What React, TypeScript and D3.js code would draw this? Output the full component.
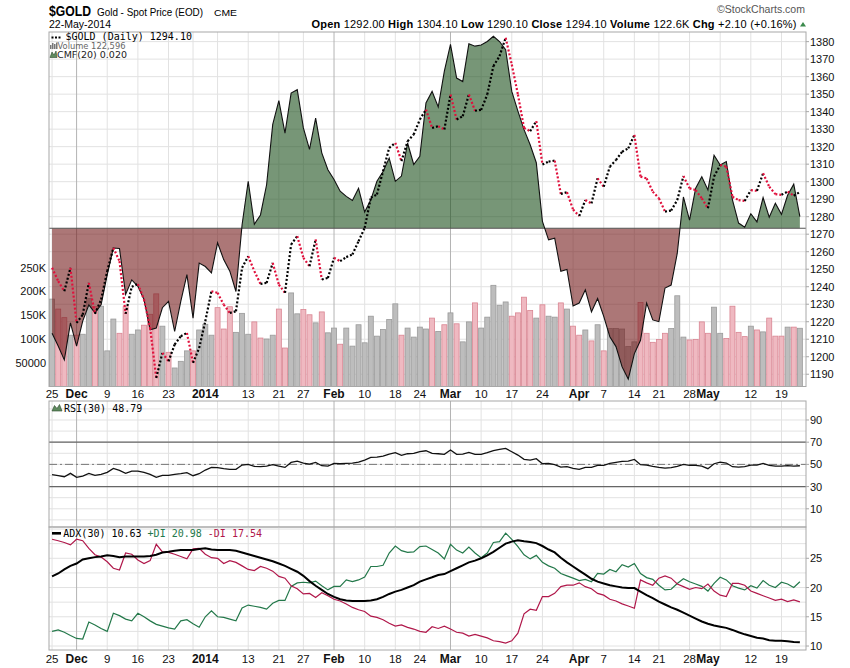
import React from 'react';
import * as d3 from 'd3';

// $GOLD daily closes, 25-Nov-2013 .. 22-May-2014 (trading-day index 0..122)
const closes = [
  1250.8, 1243.2, 1237.4, 1250.8, 1219.3, 1224, 1242.2, 1224.5, 1232.7, 1248.9,
  1262.2, 1254.6, 1224.5, 1240, 1241.5, 1232.7, 1216.5, 1187.9, 1202.2, 1197.4,
  1207, 1211.7, 1213.6, 1196.5, 1205, 1220.3, 1237.4, 1236.5, 1229.8, 1225,
  1226, 1250.8, 1257.4, 1248.9, 1241.6, 1242.2, 1253.6, 1241.2, 1236.5, 1264.1,
  1268.9, 1256.5, 1251.7, 1267, 1244.1, 1245, 1256.5, 1254.6, 1256.9, 1258.4,
  1266, 1273.6, 1290.8, 1292.7, 1306, 1319.3, 1322.2, 1311.7, 1323.1, 1326.9,
  1335.5, 1341.2, 1330.7, 1331.7, 1329.8, 1349.8, 1335.5, 1337.4, 1349.8, 1340.5,
  1341, 1349.8, 1366, 1371.7, 1382.2, 1366.9, 1349.8, 1330.7, 1328.8, 1334.6,
  1309.8, 1311.5, 1312, 1293, 1294, 1284.1, 1280.4, 1289.5, 1287.6, 1301.9,
  1297.1, 1308.6, 1312.4, 1317.1, 1319, 1326.7, 1302.9, 1301.9, 1294.3, 1290.5,
  1282.9, 1283.5, 1289.5, 1303.2, 1296.2, 1295.2, 1290.5, 1284.8, 1302.9, 1309.5,
  1308.6, 1291.4, 1289.5, 1289, 1295.2, 1294.8, 1304.8, 1297.1, 1292.9, 1292.5,
  1294.3, 1292, 1294.1,
];

// volume in thousands
const volumes = [
  184, 163, 145, 108, 108, 110, 185, 168, 169, 75,
  142, 112, 168, 110, 119, 129, 152, 195, 127, 72,
  39, 53, 75, 75, 119, 131, 108, 166, 121, 168,
  114, 154, 110, 136, 102, 100, 108, 163, 81, 197,
  153, 162, 151, 134, 157, 113, 123, 89, 123, 85,
  130, 92, 148, 106, 120, 141, 174, 108, 123, 104,
  125, 121, 144, 116, 130, 155, 132, 94, 136, 176,
  123, 146, 213, 171, 178, 148, 155, 188, 160, 144,
  172, 148, 146, 176, 163, 127, 108, 119, 96, 130,
  75, 122, 122, 121, 84, 94, 177, 112, 93, 99,
  112, 122, 191, 104, 98, 99, 136, 112, 167, 112,
  101, 169, 114, 105, 127, 119, 115, 144, 106, 106,
  125, 125, 122.596,
];

const cmf = [
  -0.181, -0.203, -0.227, -0.163, -0.203, -0.16, -0.132, -0.146, -0.132, -0.08,
  -0.034, -0.035, -0.114, -0.089, -0.1, -0.123, -0.175, -0.172, -0.137, -0.126,
  -0.178, -0.126, -0.08, -0.155, -0.06, -0.066, -0.077, -0.025, -0.054, -0.074,
  -0.109, 0.006, 0.081, 0.007, 0.023, 0.075, 0.179, 0.22, 0.164, 0.233,
  0.239, 0.173, 0.136, 0.19, 0.13, 0.101, 0.084, 0.064, 0.055, 0.048,
  0.069, 0.028, 0.049, 0.081, 0.098, 0.121, 0.081, 0.09, 0.147, 0.11,
  0.124, 0.216, 0.236, 0.209, 0.271, 0.317, 0.259, 0.253, 0.318, 0.314,
  0.316, 0.322, 0.331, 0.322, 0.308, 0.236, 0.202, 0.17, 0.144, 0.113,
  0.012, -0.02, -0.017, -0.074, -0.071, -0.134, -0.129, -0.106, -0.144, -0.121,
  -0.152, -0.187, -0.204, -0.239, -0.26, -0.216, -0.193, -0.129, -0.158, -0.161,
  -0.103, -0.098, -0.043, 0.054, 0.014, 0.069, 0.089, 0.066, 0.126, 0.109,
  0.115, 0.049, 0.009, 0.002, 0.025, 0.011, 0.053, 0.019, 0.043, 0.024,
  0.057, 0.076, 0.02,
];

const rsi = [
  40.7, 39.8, 38.9, 41.9, 38.3, 39.5, 41.9, 40.1, 41, 42.8,
  46.4, 44.6, 41.9, 44, 44, 42.8, 41, 38.3, 40.1, 40.1,
  41, 41.6, 42.5, 39.8, 41.6, 44.9, 47.3, 47, 46.1, 45.5,
  45.5, 49.4, 50, 48.2, 47.9, 48.5, 49.7, 48.5, 47.3, 51.8,
  53, 51.2, 50.3, 51.8, 48.8, 48.5, 50.9, 50.6, 50.9, 51.2,
  52.1, 53.9, 56.3, 56.6, 57.5, 59.3, 60.5, 58.1, 59.6, 59.9,
  61.4, 62.3, 59.9, 59.6, 59, 62.9, 59, 59.3, 60.8, 59,
  59, 60.5, 62.3, 63.5, 64.4, 61.4, 58.4, 54.5, 53.9, 55.1,
  50.6, 50.9, 49.7, 47.6, 47.9, 46.5, 45.5, 47.3, 47.3, 49.1,
  49.1, 50.9, 51.8, 52.7, 53, 54.5, 49.7, 49.4, 48.2, 47.3,
  46.7, 47, 48.2, 50, 49.1, 49.1, 48.5, 46.1, 50.6, 52.1,
  51.2, 47.9, 47.6, 47.9, 49.4, 49.4, 50.9, 49.1, 48.5, 48.5,
  48.8, 48.5, 48.79,
];

const adx = [
  21.9, 22.4, 23.1, 23.7, 24.1, 24.8, 25, 25.2, 25.3, 25.5,
  25.4, 25.2, 25.3, 25.3, 25.3, 25.3, 25.4, 25.6, 26, 26.1,
  26.3, 26.4, 26.4, 26.4, 26.6, 26.7, 26.5, 26.4, 26.4, 26.4,
  26.3, 26, 25.7, 25.4, 25.1, 24.8, 24.5, 24.1, 23.7, 23.2,
  22.7, 22, 21.1, 20.3, 19.6, 18.9, 18.4, 18, 17.8, 17.7,
  17.7, 17.7, 17.8, 18, 18.4, 18.9, 19.3, 19.6, 20, 20.4,
  21, 21.4, 21.75, 22.15, 22.3, 22.8, 23.3, 23.8, 24.3, 24.6,
  25, 25.5, 26.1, 26.8, 27.5, 27.85, 28.1, 27.9, 27.8, 27.6,
  27.1, 26.5, 26, 25.1, 24.3, 23.6, 22.9, 22.2, 21.5, 21,
  20.7, 20.4, 20.2, 20, 19.9, 19.9, 19.3, 18.7, 18.2, 17.6,
  17.1, 16.6, 16.2, 15.7, 15.2, 14.7, 14.2, 13.8, 13.5, 13.3,
  13.1, 12.75, 12.35, 12, 11.7, 11.4, 11.3, 11, 10.9, 10.9,
  10.8, 10.7, 10.63,
];

const plusDI = [
  12.5, 12.75, 12.35, 11.8, 11.3, 11.2, 14.1, 13.6, 13, 12.5,
  15.6, 15.2, 14.6, 14.3, 15.6, 15, 14.3, 13.7, 13.4, 13.1,
  12.9, 14.3, 14.5, 13.8, 13.2, 15, 16, 15, 14.9, 14.6,
  14.3, 16.5, 17, 16.8, 16.6, 16.3, 17.3, 17.8, 17.8, 20.2,
  20.8, 20.9, 20.8, 21.1, 20.3, 19.6, 20.2, 20.2, 21.3, 21,
  21.3, 21.8, 23.6, 23.6, 23.8, 25.9, 27.1, 26.3, 26, 26.1,
  27, 27.1, 26.5, 25.9, 24.9, 27.4, 26.4, 25.9, 26.9, 25.9,
  25.1, 25.9, 27.7, 27.85, 29.3, 28.25, 27, 25.6, 24.9, 25.5,
  24.3, 23.7, 23.3, 22.4, 22, 21.6, 21.2, 21.4, 21, 22.4,
  22.3, 23.1, 22.7, 23.9, 23.5, 24.1, 22.4, 21.7, 21.4, 20.4,
  19.6, 19.7, 20.7, 21.5, 21, 20.6, 20.2, 19.4, 20.7, 21.75,
  21.3, 20.3, 19.9, 19.6, 20.3, 19.9, 21.2, 20.4, 20, 20.9,
  20.6, 20, 20.98,
];

const minusDI = [
  28.25, 28, 27.7, 27.3, 28.25, 28, 26.7, 25.6, 25.2, 24.4,
  23.3, 23, 25.9, 25.7, 24.7, 24.1, 24.6, 27.4, 26.1, 26,
  25.7, 25.3, 24.9, 26.6, 26.7, 25.7, 25.1, 25, 24.1, 24.6,
  24.3, 23.7, 23.1, 22.9, 23.6, 23.3, 22.8, 21.9, 21.6, 20.3,
  19.8, 18.9, 19, 18.3, 19.1, 18.6, 18, 17.7, 17.2, 16.6,
  16.2, 15.9, 15.1, 14.9, 14.5, 13.9, 13.4, 13.6, 13.2, 12.9,
  12.5, 12.35, 13.3, 13, 13.4, 12.9, 12.35, 12.2, 11.7, 12,
  11.7, 11.4, 10.9, 10.75, 10.5, 10.9, 12.2, 15.5, 16.3, 16.1,
  18.45, 18.45, 19, 20.15, 20.4, 20.4, 20.8, 20.15, 19.8, 19,
  18.7, 18, 17.7, 17.2, 16.85, 16.45, 21.3, 20.8, 20.4, 21.6,
  22, 21.6, 20.6, 20.15, 19.7, 20, 19.8, 20.6, 19.4, 18.7,
  18.45, 20.7, 20.7, 20.4, 19.4, 19, 18.6, 18.2, 17.8, 18,
  17.6, 17.9, 17.54,
];

// x-axis labels (trading-day index)
const tickIdx = [0, 4, 9, 14, 19, 25, 32, 37, 41, 46, 51, 56, 60, 65, 70, 75, 80, 86, 90, 95, 99, 104, 107, 114, 119];
const tickLabels = ['25', 'Dec', '9', '16', '23', '2014', '13', '21', '27', 'Feb', '10', '18', '24', 'Mar', '10', '17', '24', 'Apr', '7', '14', '21', '28', 'May', '12', '19'];
const monthIdx = [4, 25, 46, 65, 86, 107];
const weekIdx = [0, 4, 9, 14, 19, 23, 27, 32, 37, 41, 46, 51, 56, 60, 65, 70, 75, 80, 85, 90, 95, 99, 104, 109, 114, 119];

const priceTicks = [1190, 1200, 1210, 1220, 1230, 1240, 1250, 1260, 1270, 1280, 1290, 1300, 1310, 1320, 1330, 1340, 1350, 1360, 1370, 1380];
const volumeTicks = [50, 100, 150, 200, 250];
const volumeLabels = ['50000', '100K', '150K', '200K', '250K'];
const rsiGrid = [0, 10, 20, 30, 40, 50, 60, 70, 80, 90, 100];
const rsiLabels = [10, 30, 50, 70, 90];
const adxGrid = [10, 12.5, 15, 17.5, 20, 22.5, 25, 27.5, 30];
const adxLabels = [10, 15, 20, 25];

const SANS = "'Liberation Sans', Arial, sans-serif";
const MONO = "'DejaVu Sans Mono', monospace";
const GRID = '#e2e2e2';
const BORDER = '#a8a8a8';
const UP_DOT = '#000';
const DOWN_DOT = '#e0103c';
const DI_PLUS = '#23784a';
const DI_MINUS = '#b0174a';

export default function App() {
  const L = 49, R = 806;
  const mainTop = 32, mainBot = 386.5;
  const rsiTop = 401, rsiBot = 527;
  const adxTop = 527, adxBot = 650;

  const x = d3.scaleLinear().domain([-0.5, 123]).range([L, R]);
  const yPrice = d3.scaleLinear().domain([1183, 1385.5]).range([mainBot, mainTop]);
  const yVol = d3.scaleLinear().domain([0, 746.3]).range([mainBot, mainTop]);
  const yCmf = d3.scaleLinear().domain([-0.2728, 0.3384]).range([mainBot, mainTop]);
  const yRsi = d3.scaleLinear().domain([-6.4, 107.1]).range([rsiBot, rsiTop]);
  const yAdx = d3.scaleLinear().domain([9.32, 30.35]).range([adxBot, adxTop]);

  const zeroY = yCmf(0);
  const cmfArea = d3.area<number>().x((_, i) => x(i)).y0(zeroY).y1(d => yCmf(d));
  const cmfLine = d3.line<number>().x((_, i) => x(i)).y(d => yCmf(d));
  const rsiLine = d3.line<number>().x((_, i) => x(i)).y(d => yRsi(d));
  const adxLine = d3.line<number>().x((_, i) => x(i)).y(d => yAdx(d));

  const isUp = (i: number) => i === 0 || closes[i] >= closes[i - 1];

  const vGrid = (top: number, bot: number, key: string) => (
    <g key={key}>
      {weekIdx.map(i => (
        <line key={'w' + i} x1={x(i)} x2={x(i)} y1={top} y2={bot}
          stroke={monthIdx.includes(i) ? '#b4b4b4' : GRID} strokeWidth={1} />
      ))}
    </g>
  );

  const xLabels = (y: number, key: string) => (
    <g key={key}>
      {tickIdx.map((i, k) => {
        const bold = monthIdx.includes(i);
        return (
          <text key={k} x={x(i)} y={y} textAnchor="middle" fontFamily={SANS}
            fontSize={bold ? 12 : 11.5} fontWeight={bold ? 'bold' : 'normal'} fill="#111">
            {tickLabels[k]}
          </text>
        );
      })}
    </g>
  );

  return (
    <svg width={850} height={668} style={{ position: 'absolute', left: 0, top: 0, background: '#fff' }}>
      <defs>
        <clipPath id="mainClip"><rect x={L} y={mainTop} width={R - L} height={mainBot - mainTop} /></clipPath>
        <clipPath id="cmfUp"><rect x={L} y={mainTop} width={R - L} height={zeroY - mainTop} /></clipPath>
        <clipPath id="cmfDown"><rect x={L} y={zeroY} width={R - L} height={mainBot - zeroY} /></clipPath>
        <clipPath id="adxClip"><rect x={L} y={adxTop} width={R - L} height={adxBot - adxTop} /></clipPath>
      </defs>

      {/* header */}
      <text x={49} y={15.5} fontFamily={SANS} fontSize={14} fontWeight="bold" textLength={42} lengthAdjust="spacingAndGlyphs">$GOLD</text>
      <text x={97} y={15.5} fontFamily={SANS} fontSize={11} textLength={106} lengthAdjust="spacingAndGlyphs">Gold - Spot Price (EOD)</text>
      <text x={214} y={15.5} fontFamily={SANS} fontSize={9} textLength={23} lengthAdjust="spacingAndGlyphs">CME</text>
      <text x={49} y={27.5} fontFamily={SANS} fontSize={10.5} textLength={62} lengthAdjust="spacingAndGlyphs">22-May-2014</text>
      <text x={717} y={13} fontFamily={SANS} fontSize={10.5} fill="#555" textLength={88} lengthAdjust="spacingAndGlyphs">©StockCharts.com</text>
      <text x={311.5} y={27.5} fontFamily={SANS} fontSize={11} textLength={485} lengthAdjust="spacing">
        <tspan fontWeight="bold">Open</tspan> 1292.00  <tspan fontWeight="bold">High</tspan> 1304.10  <tspan fontWeight="bold">Low</tspan> 1290.10  <tspan fontWeight="bold">Close</tspan> 1294.10  <tspan fontWeight="bold">Volume</tspan> 122.6K  <tspan fontWeight="bold">Chg</tspan> +2.10 (+0.16%)
      </text>
      <path d="M800,26.5 L803,22 L806,26.5 Z" fill="#3b8a4c" />

      {/* ===== main panel ===== */}
      {priceTicks.map(p => (
        <line key={p} x1={L} x2={R} y1={yPrice(p)} y2={yPrice(p)} stroke={GRID} />
      ))}
      {vGrid(mainTop, mainBot, 'vgMain')}

      <g clipPath="url(#mainClip)">
        {volumes.map((v, i) => {
          const up = isUp(i);
          return (
            <rect key={i} x={x(i) - 2.5} y={yVol(v)} width={5} height={mainBot - yVol(v)}
              fill={up ? '#bdbdbd' : '#efb9c1'} stroke={up ? '#9a9a9a' : '#d98592'} strokeWidth={0.8} />
          );
        })}
        <path d={cmfArea(cmf) || ''} fill="#1d501d" fillOpacity={0.6} clipPath="url(#cmfUp)" />
        <path d={cmfArea(cmf) || ''} fill="#701414" fillOpacity={0.58} clipPath="url(#cmfDown)" />
        <line x1={L} x2={R} y1={zeroY} y2={zeroY} stroke="#555" strokeWidth={1.2} />
        <path d={cmfLine(cmf) || ''} fill="none" stroke="#111" strokeWidth={1.1} />
        {closes.map((c, i) => i === 0 ? null : (
          <line key={'p' + i} x1={x(i - 1)} y1={yPrice(closes[i - 1])} x2={x(i)} y2={yPrice(c)}
            stroke={c >= closes[i - 1] ? UP_DOT : DOWN_DOT} strokeWidth={2.2} strokeDasharray="2,2" />
        ))}
      </g>
      <rect x={L} y={mainTop} width={R - L} height={mainBot - mainTop} fill="none" stroke={BORDER} />

      {/* right price axis */}
      {priceTicks.map(p => (
        <g key={'pl' + p}>
          <line x1={R} x2={R + 3} y1={yPrice(p)} y2={yPrice(p)} stroke={BORDER} />
          <text x={810} y={yPrice(p) + 4} fontFamily={SANS} fontSize={11} fill="#111">{p}</text>
        </g>
      ))}
      {/* left volume axis */}
      {volumeTicks.map((v, k) => (
        <text key={'vl' + v} x={46} y={yVol(v) + 4} textAnchor="end" fontFamily={SANS} fontSize={11} fill="#111">{volumeLabels[k]}</text>
      ))}

      {/* main legend */}
      <g fill="#000">
        <rect x={51.5} y={36.5} width={2} height={2} />
        <rect x={55} y={36.5} width={2} height={2} />
        <rect x={58.5} y={36.5} width={2} height={2} />
      </g>
      <text x={65.5} y={40} fontFamily={MONO} fontSize={10} fill="#000">$GOLD (Daily) 1294.10</text>
      <g fill="#777">
        <rect x={50} y={45} width={1.5} height={4} />
        <rect x={52} y={43} width={1.5} height={6} />
        <rect x={54} y={44} width={1.5} height={5} />
        <rect x={56} y={42.5} width={1.5} height={6.5} />
      </g>
      <text x={57.5} y={49} fontFamily="'DejaVu Sans', sans-serif" fontSize={9} fill="#666" textLength={68} lengthAdjust="spacingAndGlyphs">Volume 122,596</text>
      <path d="M50,57.5 L52,52 L54,55 L56,51 L57,57.5 Z" fill="#5e8a5e" stroke="#2e4a2e" strokeWidth={0.6} />
      <text x={57} y={57.5} fontFamily="'DejaVu Sans', sans-serif" fontSize={9} fill="#222" textLength={70} lengthAdjust="spacingAndGlyphs">CMF(20) 0.020</text>

      {xLabels(398, 'xl1')}

      {/* ===== RSI panel ===== */}
      {rsiGrid.map(v => (
        <line key={'rg' + v} x1={L} x2={R} y1={yRsi(v)} y2={yRsi(v)} stroke={GRID} />
      ))}
      {vGrid(rsiTop, rsiBot, 'vgRsi')}
      <line x1={L} x2={R} y1={yRsi(70)} y2={yRsi(70)} stroke="#666" strokeWidth={1.2} />
      <line x1={L} x2={R} y1={yRsi(30)} y2={yRsi(30)} stroke="#666" strokeWidth={1.2} />
      <line x1={L} x2={R} y1={yRsi(50)} y2={yRsi(50)} stroke="#777" strokeWidth={1} strokeDasharray="8,3,2,3" />
      <path d={rsiLine(rsi) || ''} fill="none" stroke="#111" strokeWidth={1.3} />
      <rect x={L} y={rsiTop} width={R - L} height={rsiBot - rsiTop} fill="none" stroke={BORDER} />
      {rsiLabels.map(v => (
        <g key={'rl' + v}>
          <line x1={R} x2={R + 3} y1={yRsi(v)} y2={yRsi(v)} stroke={BORDER} />
          <text x={810} y={yRsi(v) + 4} fontFamily={SANS} fontSize={11} fill="#111">{v}</text>
        </g>
      ))}
      <path d="M52,411 L54.5,405.5 L57,408.5 L59.5,404.5 L62,411 Z" fill="#5e8a5e" stroke="#2e4a2e" strokeWidth={0.6} />
      <text x={64} y={411.5} fontFamily={MONO} fontSize={10} fill="#000">RSI(30) 48.79</text>

      {/* ===== ADX panel ===== */}
      {adxGrid.map(v => (
        <line key={'ag' + v} x1={L} x2={R} y1={yAdx(v)} y2={yAdx(v)} stroke={GRID} />
      ))}
      {vGrid(adxTop, adxBot, 'vgAdx')}
      <g clipPath="url(#adxClip)">
        <path d={adxLine(plusDI) || ''} fill="none" stroke={DI_PLUS} strokeWidth={1.2} />
        <path d={adxLine(minusDI) || ''} fill="none" stroke={DI_MINUS} strokeWidth={1.2} />
        <path d={adxLine(adx) || ''} fill="none" stroke="#000" strokeWidth={2} />
      </g>
      <rect x={L} y={adxTop} width={R - L} height={adxBot - adxTop} fill="none" stroke={BORDER} />
      {adxLabels.map(v => (
        <g key={'al' + v}>
          <line x1={R} x2={R + 3} y1={yAdx(v)} y2={yAdx(v)} stroke={BORDER} />
          <text x={810} y={yAdx(v) + 4} fontFamily={SANS} fontSize={11} fill="#111">{v}</text>
        </g>
      ))}
      <rect x={52} y={532} width={9} height={2.6} fill="#000" />
      <text x={63.3} y={537} fontFamily={MONO} fontSize={10}>
        <tspan fill="#000">ADX(30) 10.63 </tspan>
        <tspan fill={DI_PLUS}>+DI 20.98 </tspan>
        <tspan fill={DI_MINUS}>-DI 17.54</tspan>
      </text>

      {xLabels(662.5, 'xl2')}
    </svg>
  );
}
